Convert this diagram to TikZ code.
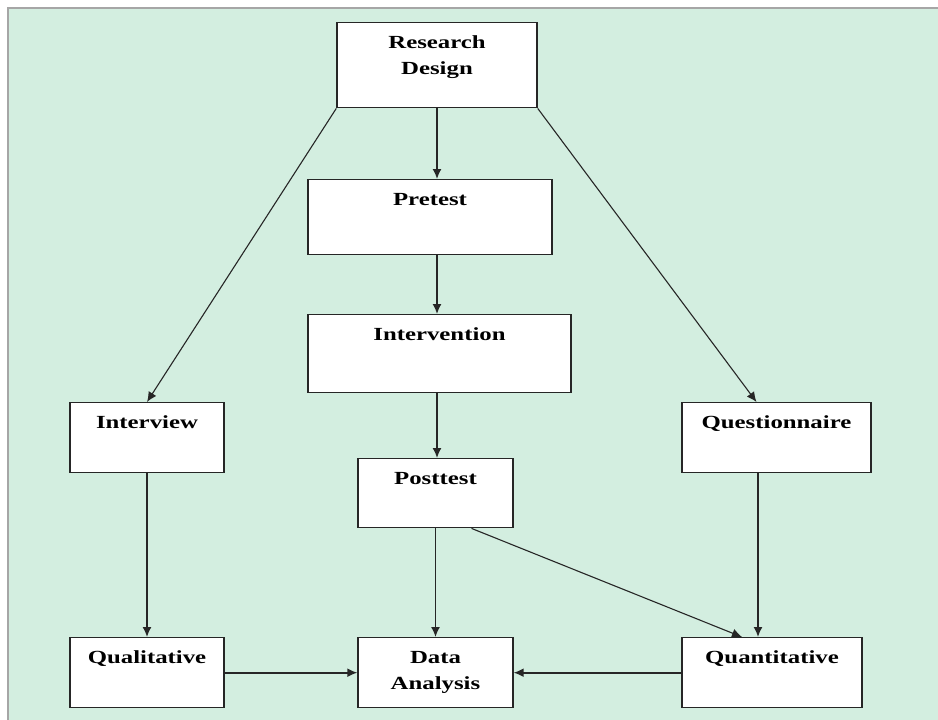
\documentclass[tikz,border=0pt]{standalone}
\usepackage{fontspec}
\newfontfamily\stagefont{Liberation Serif}[FakeStretch=1.34]
\usetikzlibrary{arrows.meta}
\definecolor{mint}{RGB}{211,238,224}
\begin{document}
\begin{tikzpicture}[x=1pt,y=-1pt,
  stage/.style={draw=black!85,line width=1.4pt,fill=white,anchor=north,
    font=\stagefont\bfseries\fontsize{18.5}{25.5}\selectfont,
    inner xsep=4pt,inner ysep=13pt,text height=13pt},
  link/.style={draw=black!85,line width=1.6pt,-{Latex[length=10pt,width=9pt]}},
  thin link/.style={link,line width=1.1pt}]
\useasboundingbox (0,0) rectangle (938,720);
\fill[mint] (8,8) rectangle (938,720);
\draw[gray!70,line width=2pt] (8,720) -- (8,8) -- (938,8);
\node[stage,minimum width=200pt,text depth=46pt] (rd) at (437,22)
  {\begin{tabular}[t]{@{}c@{}}Research\\Design\end{tabular}};
\node[stage,minimum width=244pt,text depth=36pt] (pre) at (430,179) {Pretest};
\node[stage,minimum width=263pt,text depth=39pt] (int) at (439.5,314) {Intervention};
\node[stage,minimum width=154pt,text depth=31pt] (iv) at (147,402) {Interview};
\node[stage,minimum width=189pt,text depth=31pt] (qn) at (776.5,402) {Questionnaire};
\node[stage,minimum width=155pt,text depth=30pt] (post) at (435.5,458) {Posttest};
\node[stage,minimum width=154pt,text depth=31pt] (ql) at (147,637) {Qualitative};
\node[stage,minimum width=155pt,text depth=31pt] (da) at (435.5,637)
  {\begin{tabular}[t]{@{}c@{}}Data\\Analysis\end{tabular}};
\node[stage,minimum width=180pt,text depth=31pt] (qt) at (772,637) {Quantitative};
\draw[link] (rd.south) -- (rd.south |- pre.north);
\draw[link] (pre.south -| rd.south) -- (rd.south |- int.north);
\draw[link] (int.south -| rd.south) -- (rd.south |- post.north);
\draw[link] (post.south) -- (da.north);
\draw[thin link] (rd.south west) -- (iv.north);
\draw[thin link] (rd.south east) -- ([xshift=-20pt]qn.north);
\draw[link] (iv.south) -- (ql.north);
\draw[link] ([xshift=-18.5pt]qn.south) -- ([xshift=-18.5pt]qn.south |- qt.north);
\draw[thin link] ([xshift=36pt]post.south) -- ([xshift=-30pt]qt.north);
\draw[link] (ql.east) -- (da.west);
\draw[link] (qt.west) -- (da.east);
\end{tikzpicture}
\end{document}
